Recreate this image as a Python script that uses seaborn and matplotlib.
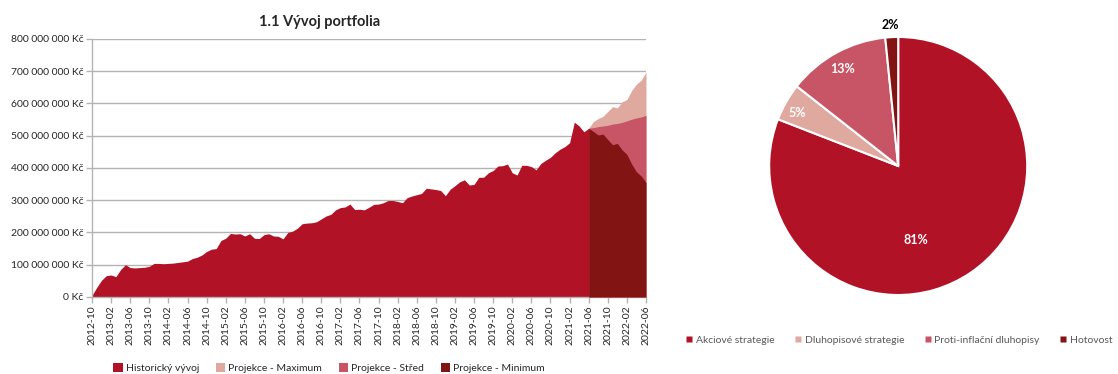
import matplotlib
matplotlib.use("Agg")
import matplotlib.pyplot as plt
from matplotlib.patches import Patch
from matplotlib.lines import Line2D
from matplotlib.ticker import FuncFormatter, MultipleLocator
import numpy as np
import pandas as pd
import seaborn as sns

# monthly axis, 2012-10 .. 2022-06
months = pd.period_range("2012-10", "2022-06", freq="M").strftime("%Y-%m").tolist()

# portfolio value in millions Kč, 2012-10 .. 2021-06
historicky = [
    5, 30, 52, 66, 68, 63, 85, 100, 91, 90,
    91, 92, 95, 104, 104, 103, 104, 105, 107, 109,
    111, 119, 123, 130, 141, 148, 150, 175, 182, 197,
    195, 196, 189, 196, 182, 181, 193, 196, 189, 188,
    180, 200, 204, 213, 227, 229, 230, 233, 242, 251,
    256, 270, 277, 279, 288, 271, 272, 270, 278, 287,
    288, 292, 299, 299, 296, 292, 308, 313, 317, 321,
    337, 335, 333, 330, 314, 334, 345, 357, 363, 347,
    349, 371, 371, 385, 392, 406, 407, 412, 385, 378,
    408, 408, 404, 394, 414, 424, 433, 447, 458, 466,
    478, 542, 530, 512, 523,
]
# projections in millions Kč, 2021-06 .. 2022-06
proj_max = [523, 544, 553, 560, 575, 590, 586, 605, 612, 640, 660, 672, 697]
proj_stred = [523, 525, 528, 530, 532, 536, 538, 541, 546, 551, 555, 558, 563]
proj_min = [523, 513, 502, 505, 488, 472, 476, 456, 442, 412, 388, 375, 355]

alokace_labels = ["Akciové strategie", "Dluhopisové strategie",
                  "Proti-inflační dluhopisy", "Hotovost"]
alokace_values = [80.9, 4.7, 12.8, 1.6]

C_HIST = "#B11226"
C_MAX = "#E0A9A0"
C_MID = "#C85566"
C_MIN = "#821414"
GRID = "#B3B3B3"

sns.set_theme(style="white")
plt.rcParams["font.family"] = ["Lato", "DejaVu Sans"]

fig = plt.figure(figsize=(11.18, 3.74), dpi=100)

# ---- area chart ----
ax = fig.add_axes([0.0823, 0.206, 0.4955, 0.690])
x_all = np.arange(len(months))
x_hist = x_all[:len(historicky)]
x_proj = x_all[len(historicky) - 1:]
mil = 1e6

ax.fill_between(x_hist, np.array(historicky) * mil, 0, color=C_HIST, lw=0, zorder=2)
ax.fill_between(x_proj, np.array(proj_max) * mil, 0, color=C_MAX, lw=0, zorder=3)
ax.fill_between(x_proj, np.array(proj_stred) * mil, 0, color=C_MID, lw=0, zorder=4)
ax.fill_between(x_proj, np.array(proj_min) * mil, 0, color=C_MIN, lw=0, zorder=5)

ax.set_xlim(0, len(months) - 1)
ax.set_ylim(0, 800 * mil)
ax.yaxis.set_major_locator(MultipleLocator(100 * mil))
ax.yaxis.set_major_formatter(FuncFormatter(lambda v, p: f"{int(round(v)):,}".replace(",", " ") + " Kč"))
ax.set_xticks(x_all[::4])
ax.set_xticklabels(months[::4], rotation=90)
ax.grid(axis="y", color=GRID, lw=1, zorder=0)
ax.set_axisbelow(True)
sns.despine(ax=ax, top=True, right=True)
for s in ("left", "bottom"):
    ax.spines[s].set_color(GRID)
    ax.spines[s].set_linewidth(1)
ax.tick_params(axis="both", labelsize=7.5, colors="#262626", length=4, width=1,
               color=GRID, pad=2, left=True, bottom=True)
ax.set_title("1.1 Vývoj portfolia", fontsize=10.5, fontweight="bold", pad=9, x=0.41)

handles = [Patch(facecolor=c, edgecolor="none") for c in (C_HIST, C_MAX, C_MID, C_MIN)]
fig.legend(handles, ["Historický vývoj", "Projekce - Maximum", "Projekce - Střed", "Projekce - Minimum"],
           loc="center", bbox_to_anchor=(329 / 1118, 1 - 368 / 374), ncol=4, frameon=False,
           fontsize=7.5, handlelength=0.9, handleheight=0.9, handletextpad=0.3, columnspacing=1.6)

# ---- pie chart ----
pax = fig.add_axes([0.688, 0.2112, 0.2308, 0.690])
pie_colors = [C_HIST, C_MAX, C_MID, C_MIN]
wedges, _ = pax.pie(alokace_values, colors=pie_colors, startangle=90, counterclock=False,
                    wedgeprops=dict(edgecolor="white", linewidth=1.5))
pax.set_xlim(-1, 1)
pax.set_ylim(-1, 1)
pax.set_aspect("equal")

total = sum(alokace_values)
label_pos = [(0.14, -0.57), (-0.78, 0.41), (-0.43, 0.75), (-0.06, 1.09)]
label_col = ["white", "white", "white", "black"]
for v, (lx, ly), c in zip(alokace_values, label_pos, label_col):
    pax.text(lx, ly, f"{v / total * 100:.0f}%", ha="center", va="center", fontsize=9,
             fontweight="bold", color=c, clip_on=False)

pie_handles = [Line2D([], [], marker="s", ls="", markersize=4, markerfacecolor=c,
                      markeredgecolor="none") for c in pie_colors]
fig.legend(pie_handles, alokace_labels, loc="center", bbox_to_anchor=(899 / 1118, 1 - 340 / 374),
           ncol=4, frameon=False, fontsize=7.5, handlelength=0.7, handletextpad=0.3,
           columnspacing=1.9, labelcolor="#595959")

fig.savefig("out.png", dpi=100)
